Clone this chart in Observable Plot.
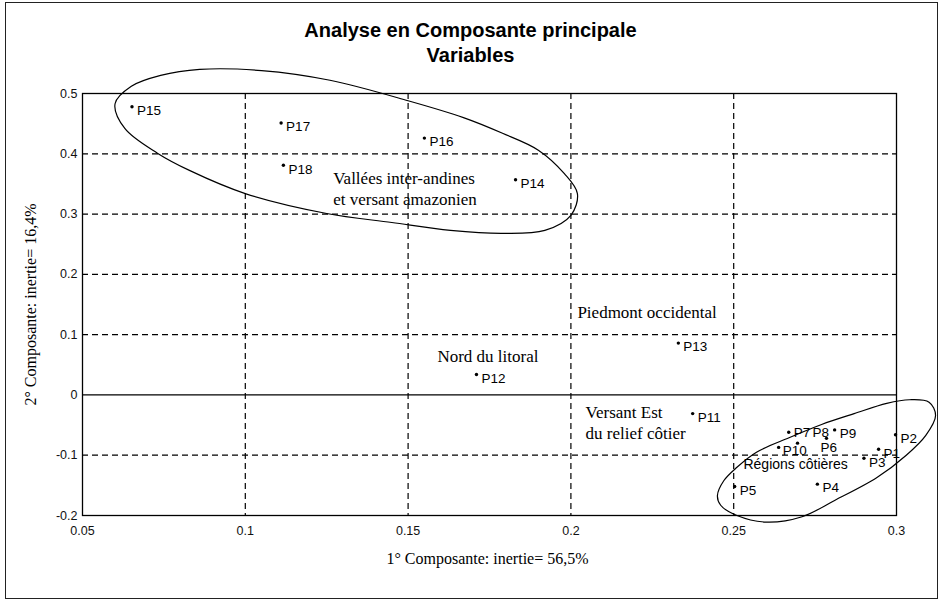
<!DOCTYPE html>
<html><head><meta charset="utf-8">
<script src="https://cdn.jsdelivr.net/npm/d3@7"></script>
<script src="https://cdn.jsdelivr.net/npm/@observablehq/plot@0.6"></script>
<style>
html,body{margin:0;padding:0;background:#fff;}
#wrap{position:relative;width:941px;height:607px;overflow:hidden;background:#fff;}
#border{position:absolute;left:5px;top:2px;width:933px;height:597px;border:1px solid #222;box-sizing:border-box;pointer-events:none;}
#chart svg{display:block;}
</style></head><body>
<div id="wrap"><div id="chart"></div><div id="border"></div></div>
<script>
// Variables (points)
const names = ["P1","P2","P3","P4","P5","P6","P7","P8","P9","P10","P11","P12","P13","P14","P15","P16","P17","P18"];
const comp1 = [0.2945,0.2997,0.290,0.2757,0.2503,0.2785,0.2669,0.2696,0.281,0.2638,0.2374,0.171,0.233,0.183,0.0652,0.155,0.111,0.1117];
const comp2 = [-0.090,-0.066,-0.105,-0.148,-0.152,-0.072,-0.062,-0.080,-0.058,-0.087,-0.031,0.034,0.086,0.357,0.478,0.426,0.451,0.381];

// Ticks
const xTicks = [0.05,0.1,0.15,0.2,0.25,0.3];
const xTickLabels = ["0.05","0.1","0.15","0.2","0.25","0.3"];
const yTicks = [-0.2,-0.1,0,0.1,0.2,0.3,0.4,0.5];
const yTickLabels = ["-0.2","-0.1","0","0.1","0.2","0.3","0.4","0.5"];
const xGrid = [0.1,0.15,0.2,0.25];
const yGrid = [-0.1,0.1,0.2,0.3,0.4];

// Region annotations
const regionText = ["Vallées inter-andines","et versant amazonien","Piedmont occidental","Nord du litoral","Versant Est","du relief côtier"];
const regionX = [0.127,0.127,0.202,0.159,0.2045,0.2045];
const regionY = [0.359,0.324,0.137,0.064,-0.029,-0.064];
const coastText = ["Régions côtières"];
const coastX = [0.253];
const coastY = [-0.116];

// Hand-drawn group outlines
const ell1X = [0.060,0.065,0.074,0.086,0.105,0.126,0.150,0.167,0.179,0.190,0.198,0.202,0.200,0.192,0.179,0.163,0.145,0.125,0.100,0.083,0.073,0.063];
const ell1Y = [0.483,0.512,0.530,0.540,0.538,0.522,0.488,0.460,0.434,0.406,0.367,0.334,0.298,0.273,0.268,0.273,0.286,0.301,0.334,0.372,0.401,0.442];
const ell2X = [0.245,0.247,0.251,0.257,0.267,0.277,0.287,0.297,0.304,0.310,0.312,0.309,0.303,0.294,0.281,0.271,0.260,0.251,0.246];
const ell2Y = [-0.167,-0.142,-0.120,-0.095,-0.071,-0.049,-0.031,-0.014,-0.008,-0.012,-0.034,-0.067,-0.100,-0.137,-0.175,-0.202,-0.211,-0.200,-0.183];

const title1 = "Analyse en Composante principale";
const title2 = "Variables";
const xLabel = "1° Composante: inertie= 56,5%";
const yLabel = "2° Composante: inertie= 16,4%";

const pts = names.map((n,i)=>({name:n,x:comp1[i],y:comp2[i]}));
const regions = regionText.map((t,i)=>({t,x:regionX[i],y:regionY[i]}));
const coast = coastText.map((t,i)=>({t,x:coastX[i],y:coastY[i]}));
const ell1 = ell1X.map((x,i)=>({x,y:ell1Y[i]}));
const ell2 = ell2X.map((x,i)=>({x,y:ell2Y[i]}));

const nudged = new Set(["P6","P7","P8","P10"]);
const sans = "'Liberation Sans', Arial, sans-serif";
const serif = "'Liberation Serif', 'Times New Roman', serif";
const lbl = {fontSize: 13.5, fontFamily: sans, fill: "black", textAnchor: "start"};

const plot = Plot.plot({
  width: 941, height: 607,
  marginLeft: 82, marginRight: 45, marginTop: 93, marginBottom: 92,
  style: {fontFamily: sans, fontSize: "12.5px", color: "#111", background: "white", overflow: "visible"},
  x: {domain: [0.05, 0.3], ticks: xTicks, tickSize: 0, tickPadding: 11, label: null,
      tickFormat: d => xTickLabels[xTicks.indexOf(d)]},
  y: {domain: [-0.2, 0.5], ticks: yTicks, tickSize: 0, tickPadding: 5, label: null,
      tickFormat: d => yTickLabels[yTicks.findIndex(t => Math.abs(t-d) < 1e-9)]},
  marks: [
    Plot.ruleX(xGrid, {stroke: "black", strokeWidth: 1.2, strokeDasharray: "6,4"}),
    Plot.ruleY(yGrid, {stroke: "black", strokeWidth: 1.2, strokeDasharray: "6,4"}),
    Plot.ruleY([0], {stroke: "black", strokeWidth: 1.2}),
    Plot.frame({stroke: "black", strokeWidth: 1.3}),
    Plot.line(ell1, {x: "x", y: "y", curve: "catmull-rom-closed", stroke: "black", strokeWidth: 1.2}),
    Plot.line(ell2, {x: "x", y: "y", curve: "catmull-rom-closed", stroke: "black", strokeWidth: 1.2}),
    Plot.dot(pts, {x: "x", y: "y", r: 1.7, fill: "black", stroke: "none"}),
    Plot.text(pts.filter(d => !nudged.has(d.name)), {x: "x", y: "y", text: "name", dx: 5, dy: 4, ...lbl}),
    Plot.text(pts.filter(d => d.name === "P7"), {x: "x", y: "y", text: "name", dx: 5, dy: 0, ...lbl}),
    Plot.text(pts.filter(d => d.name === "P8"), {x: "x", y: "y", text: "name", dx: 15, dy: -10, ...lbl}),
    Plot.text(pts.filter(d => d.name === "P6"), {x: "x", y: "y", text: "name", dx: -6, dy: 9, ...lbl}),
    Plot.text(pts.filter(d => d.name === "P10"), {x: "x", y: "y", text: "name", dx: 4, dy: 3, ...lbl}),
    Plot.text(regions, {x: "x", y: "y", text: "t", textAnchor: "start", fontSize: 17, fontFamily: serif, fill: "black", ariaLabel: "regions"}),
    Plot.text(coast, {x: "x", y: "y", text: "t", textAnchor: "start", fontSize: 14, fontFamily: sans, fill: "black", ariaLabel: "coast"}),
    Plot.text([title1], {frameAnchor: "top", dx: -19, dy: -63, lineAnchor: "middle", textAnchor: "middle", text: d => d, fontSize: 20, fontWeight: "bold", fontFamily: sans, fill: "black", ariaLabel: "title"}),
    Plot.text([title2], {frameAnchor: "top", dx: -19, dy: -38, lineAnchor: "middle", textAnchor: "middle", text: d => d, fontSize: 20, fontWeight: "bold", fontFamily: sans, fill: "black", ariaLabel: "title"}),
    Plot.text([xLabel], {frameAnchor: "bottom", dx: -2, dy: 43, lineAnchor: "middle", textAnchor: "middle", text: d => d, fontSize: 16, fontFamily: serif, fill: "black", ariaLabel: "axlabel"}),
    Plot.text([yLabel], {frameAnchor: "left", dx: -52, lineAnchor: "middle", textAnchor: "middle", rotate: -90, text: d => d, fontSize: 16, fontFamily: serif, fill: "black", ariaLabel: "axlabel"})
  ]
});
d3.select(plot).selectAll('g[aria-label="regions"] text').style("letter-spacing", "0.8px");
d3.select(plot).selectAll('g[aria-label="axlabel"] text').style("letter-spacing", "0.8px");
d3.select(plot).selectAll('g[aria-label="coast"] text').style("letter-spacing", "0.8px");
d3.select(plot).selectAll('g[aria-label="title"] text').style("letter-spacing", "0.8px");
document.getElementById("chart").appendChild(plot);
</script>
</body></html>
